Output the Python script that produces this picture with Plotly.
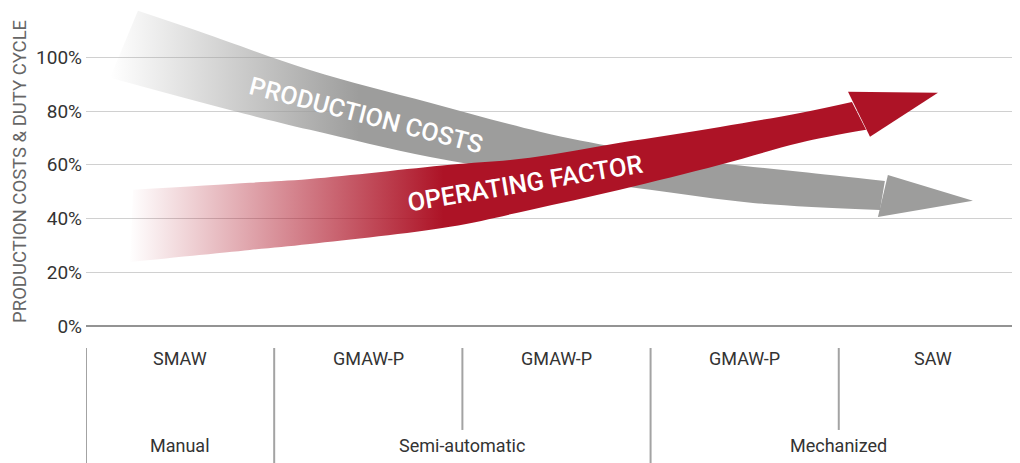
import plotly.graph_objects as go

# ---- axis / table content ----
y_ticks = [0, 20, 40, 60, 80, 100]
y_tick_text = ["0%", "20%", "40%", "60%", "80%", "100%"]
processes = ["SMAW", "GMAW-P", "GMAW-P", "GMAW-P", "SAW"]
groups = ["Manual", "Semi-automatic", "Mechanized"]
group_start = [0, 1, 3]
group_end = [1, 3, 5]

# ---- Production costs arrow (x in process columns, y in %) ----
cost_top_x = [0.276, 0.606, 1.190, 1.828, 2.412, 2.837, 3.369, 3.794, 4.245]
cost_top_y = [117.3, 109.5, 95.3, 83.1, 72.3, 66.3, 60.7, 57.4, 54.0]
cost_bot_x = [0.128, 0.765, 1.190, 1.828, 2.412, 2.997, 3.544, 4.219]
cost_bot_y = [92.4, 80.4, 73.0, 62.9, 56.2, 50.7, 45.8, 43.2]
cost_head_x = [4.261, 4.713, 4.208]
cost_head_y = [56.2, 46.6, 40.6]

# ---- Operating factor arrow ----
op_top_x = [0.250, 0.871, 1.190, 1.934, 2.359, 2.837, 3.369, 3.794, 4.070]
op_top_y = [50.7, 53.3, 54.7, 60.0, 62.6, 68.2, 74.1, 79.3, 83.4]
op_bot_x = [0.234, 0.871, 1.190, 1.934, 2.359, 2.837, 3.369, 3.794, 4.145]
op_bot_y = [23.8, 28.3, 30.5, 36.9, 43.2, 50.7, 60.0, 68.2, 73.0]
op_head_x = [4.049, 4.527, 4.166]
op_head_y = [87.2, 86.8, 70.4]

GRAY = "157,157,156"
RED = "173,19,38"
FONT = "Roboto"

fig = go.Figure()


def add_arrow(top_x, top_y, bot_x, bot_y, head_x, head_y, rgb, g_start, g_stop):
    # lower edge of the shaft (invisible)
    fig.add_trace(go.Scatter(
        x=bot_x, y=bot_y, mode="lines",
        line=dict(width=0, shape="spline", smoothing=1.0, color=f"rgba({rgb},0)"),
        hoverinfo="skip", showlegend=False))
    # upper edge, filled down to the lower edge with a horizontal fade-in
    fig.add_trace(go.Scatter(
        x=top_x, y=top_y, mode="lines",
        line=dict(width=0, shape="spline", smoothing=1.0, color=f"rgba({rgb},0)"),
        fill="tonexty",
        fillgradient=dict(type="horizontal", start=g_start, stop=g_stop,
                          colorscale=[[0, f"rgba({rgb},0)"], [1, f"rgba({rgb},1)"]]),
        hoverinfo="skip", showlegend=False))
    # arrow head
    fig.add_trace(go.Scatter(
        x=head_x, y=head_y, mode="lines", line=dict(width=0), fill="toself",
        fillcolor=f"rgb({rgb})", hoverinfo="skip", showlegend=False))


add_arrow(cost_top_x, cost_top_y, cost_bot_x, cost_bot_y, cost_head_x, cost_head_y,
          GRAY, 0.13, 1.45)
add_arrow(op_top_x, op_top_y, op_bot_x, op_bot_y, op_head_x, op_head_y,
          RED, 0.23, 1.9)

annotations = [
    dict(x=1.49, y=78.2, xref="x", yref="y", text="PRODUCTION COSTS", showarrow=False,
         textangle=14.5, font=dict(family=FONT, size=25, color="white", weight=500)),
    dict(x=2.333, y=53.3, xref="x", yref="y", text="OPERATING FACTOR", showarrow=False,
         textangle=-9.5, font=dict(family=FONT, size=25.5, color="white", weight=500)),
    dict(x=-0.0707, y=57.7, xref="paper", yref="y", text="PRODUCTION COSTS &amp; DUTY CYCLE",
         showarrow=False, textangle=-90, xanchor="center", yanchor="middle",
         font=dict(family=FONT, size=18.5, color="#666666")),
]

for i, p in enumerate(processes):
    annotations.append(dict(x=i + 0.5, y=-12.0, xref="x", yref="y", text=p, showarrow=False,
                            font=dict(family=FONT, size=18, color="#333333")))
for g, s, e in zip(groups, group_start, group_end):
    annotations.append(dict(x=(s + e) / 2, y=-44.3, xref="x", yref="y", text=g, showarrow=False,
                            font=dict(family=FONT, size=18, color="#333333")))

shapes = []
full_sep = set(group_start)
for i in range(len(processes)):
    y_end = -52 if i in full_sep else -38.7
    shapes.append(dict(type="line", xref="x", yref="y", x0=i, x1=i, y0=-8.2, y1=y_end,
                       line=dict(color="#a3a3a3", width=2)))

# The page adds an 8px body margin, so the figure is sized to fill the rest of the window.
fig.update_layout(
    width=1012, height=455,
    margin=dict(l=78, r=0, t=0, b=0, pad=0),
    paper_bgcolor="white", plot_bgcolor="white",
    showlegend=False,
    annotations=annotations, shapes=shapes,
    xaxis=dict(range=[0, 4.963], visible=False, fixedrange=True),
    yaxis=dict(range=[-51.0, 118.36], tickmode="array", tickvals=y_ticks, ticktext=y_tick_text,
               showgrid=True, gridcolor="#d0d0d0", gridwidth=1,
               zeroline=True, zerolinecolor="#939393", zerolinewidth=2,
               showline=False, ticks="", ticklabelstandoff=3,
               tickfont=dict(family=FONT, size=19, color="#333333"),
               fixedrange=True),
)

fig.write_html("out.html")
